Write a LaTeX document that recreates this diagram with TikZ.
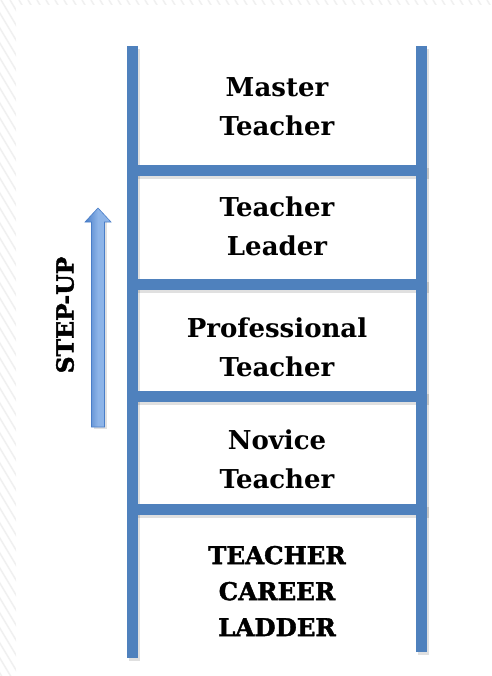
\documentclass[tikz,border=0pt]{standalone}
\usepackage{fontspec}
\setmainfont{DejaVu Serif}
\newfontfamily\heavyfont[FakeBold=1.6]{DejaVu Serif Bold}
\usetikzlibrary{arrows.meta,shadows}
\definecolor{railblue}{HTML}{4F81BD}
\definecolor{arrowlight}{HTML}{8DB4E8}
\definecolor{arrowdark}{HTML}{4A7EC8}
\definecolor{hatch}{HTML}{F0F0F0}
\begin{document}
\begin{tikzpicture}[x=1pt,y=-1pt,
  rail/.style={line width=11pt,draw=railblue},
  rung/.style={line width=11pt,draw=railblue},
  shadowline/.style={line width=11pt,draw=black,opacity=0.12},
  label/.style={font=\bfseries\fontsize{26}{39}\selectfont,align=center,text=black,inner sep=0pt},
  biglabel/.style={font=\heavyfont\fontsize{24.5}{36}\selectfont,align=center,text=black,inner sep=0pt},
]
\useasboundingbox (0,0) rectangle (491,676);
\fill[white] (0,0) rectangle (491,676);
% faint hatched border
\begin{scope}
\clip (0,0) rectangle (16,676) (16,0) rectangle (491,5);
\foreach \i in {-440,-431,...,500} {
  \draw[hatch,line width=1.5pt] (\i,0) -- (\i+420,700);
}
\end{scope}
% coordinates
\coordinate (LT) at (132,46);
\coordinate (LB) at (132,658);
\coordinate (RT) at (421,46);
\coordinate (RB) at (421,652);
\foreach \n/\y in {1/171,2/284,3/396,4/509} {
  \coordinate (a\n) at (127,\y);
  \coordinate (b\n) at (427,\y);
}
% shadows
\draw[shadowline] ([shift={(2,3)}]LT) -- ([shift={(2,3)}]LB);
\draw[shadowline] ([shift={(2,3)}]RT) -- ([shift={(2,3)}]RB);
\foreach \n in {1,2,3,4} {
  \draw[shadowline] ([shift={(2,3)}]a\n) -- ([shift={(2,3)}]b\n);
}
% rails and rungs
\draw[rail] (LT) -- (LB);
\draw[rail] (RT) -- (RB);
\foreach \n in {1,2,3,4} {
  \draw[rung] (a\n) -- (b\n);
}
% labels
\node[label] (master) at (277,107) {Master\\Teacher};
\node[label] (leader) at (277,226) {Teacher\\Leader};
\node[label] (prof) at (277,347) {Professional\\Teacher};
\node[label] (novice) at (277,459) {Novice\\Teacher};
\node[biglabel] (career) at (277,591) {TEACHER\\CAREER\\LADDER};
% step-up arrow
\coordinate (arrB) at (98,427);
\coordinate (arrT) at (98,208);
\fill[black,opacity=0.12] (93.5,222) -- (93.5,429) -- (106.5,429) -- (106.5,222) -- cycle;
\shade[left color=arrowdark,right color=arrowlight,middle color=arrowlight,draw=arrowdark,line width=0.6pt]
  (91.5,427) -- (91.5,222) -- (85,222) -- (arrT) -- (111,222) -- (104.5,222) -- (104.5,427) -- cycle;
\node[font=\heavyfont\fontsize{23.5}{23.5}\selectfont,rotate=90,inner sep=0pt] (stepup) at (65,315) {STEP-UP};
\end{tikzpicture}
\end{document}
